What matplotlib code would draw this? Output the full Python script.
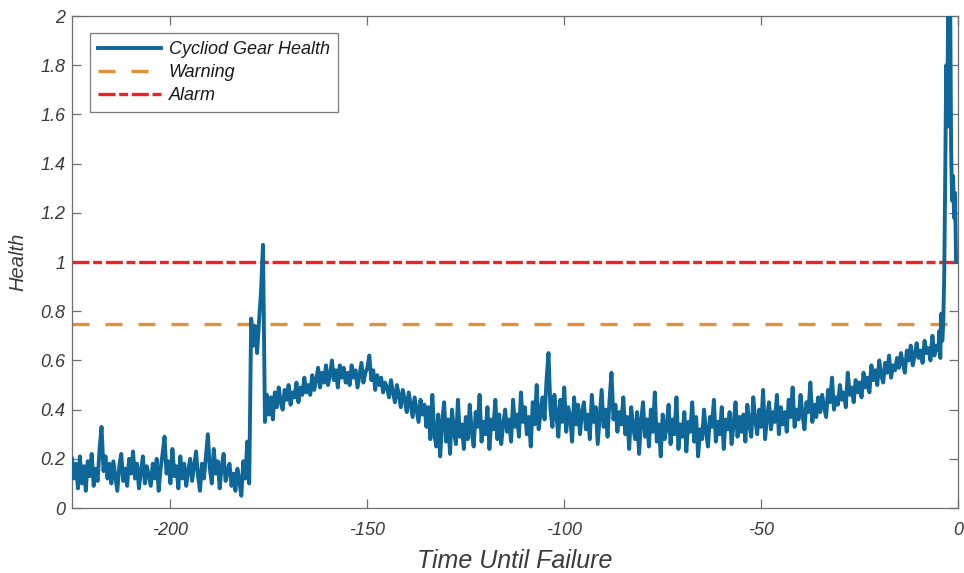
import numpy as np
import matplotlib.pyplot as plt

# health indicator sampled every 0.5 time units from -225 to -5.5
health_main = [
    0.20, 0.12, 0.18, 0.08, 0.21, 0.10, 0.17, 0.07, 0.19, 0.13, 0.22, 0.09, 0.16, 0.11, 0.24, 0.33, 0.15, 0.21, 0.12, 0.18,
    0.10, 0.19, 0.13, 0.07, 0.17, 0.22, 0.11, 0.16, 0.09, 0.20, 0.14, 0.23, 0.12, 0.18, 0.08, 0.15, 0.21, 0.10, 0.17, 0.13,
    0.09, 0.18, 0.12, 0.20, 0.07, 0.16, 0.22, 0.29, 0.14, 0.19, 0.10, 0.24, 0.13, 0.17, 0.08, 0.21, 0.12, 0.18, 0.09, 0.15,
    0.20, 0.11, 0.17, 0.23, 0.13, 0.07, 0.18, 0.12, 0.21, 0.30, 0.16, 0.10, 0.24, 0.14, 0.19, 0.08, 0.17, 0.22, 0.11, 0.15,
    0.18, 0.09, 0.14, 0.07, 0.16, 0.11, 0.05, 0.19, 0.12, 0.27, 0.10, 0.77, 0.66, 0.74, 0.63, 0.76, 0.88, 1.07, 0.35, 0.46,
    0.38, 0.45, 0.36, 0.47, 0.41, 0.49, 0.43, 0.40, 0.48, 0.44, 0.50, 0.42, 0.47, 0.45, 0.51, 0.43, 0.49, 0.46, 0.53, 0.47,
    0.50, 0.46, 0.54, 0.48, 0.52, 0.57, 0.49, 0.55, 0.51, 0.58, 0.50, 0.54, 0.60, 0.52, 0.56, 0.49, 0.58, 0.53, 0.57, 0.51,
    0.55, 0.50, 0.58, 0.53, 0.56, 0.49, 0.54, 0.59, 0.51, 0.55, 0.57, 0.62, 0.52, 0.56, 0.48, 0.54, 0.50, 0.53, 0.47, 0.51,
    0.49, 0.45, 0.52, 0.47, 0.43, 0.50, 0.46, 0.41, 0.48, 0.44, 0.39, 0.47, 0.42, 0.37, 0.45, 0.40, 0.35, 0.44, 0.38, 0.42,
    0.33, 0.41, 0.28, 0.46, 0.30, 0.25, 0.38, 0.21, 0.35, 0.43, 0.27, 0.36, 0.22, 0.40, 0.31, 0.26, 0.44, 0.29, 0.34, 0.24,
    0.37, 0.28, 0.42, 0.31, 0.25, 0.39, 0.33, 0.46, 0.27, 0.35, 0.30, 0.41, 0.24, 0.36, 0.32, 0.44, 0.28, 0.38, 0.26, 0.34,
    0.40, 0.31, 0.36, 0.27, 0.44, 0.33, 0.38, 0.29, 0.47, 0.35, 0.41, 0.30, 0.37, 0.25, 0.43, 0.34, 0.50, 0.32, 0.39, 0.45,
    0.36, 0.52, 0.63, 0.40, 0.33, 0.46, 0.38, 0.29, 0.44, 0.35, 0.49, 0.31, 0.41, 0.37, 0.27, 0.45, 0.34, 0.42, 0.30, 0.39,
    0.43, 0.32, 0.38, 0.28, 0.46, 0.35, 0.41, 0.26, 0.37, 0.48, 0.33, 0.40, 0.29, 0.44, 0.55, 0.36, 0.42, 0.31, 0.39, 0.34,
    0.45, 0.30, 0.37, 0.24, 0.41, 0.33, 0.28, 0.39, 0.22, 0.35, 0.43, 0.29, 0.36, 0.25, 0.40, 0.31, 0.47, 0.27, 0.34, 0.21,
    0.38, 0.28, 0.33, 0.42, 0.26, 0.36, 0.30, 0.45, 0.24, 0.34, 0.29, 0.39, 0.23, 0.35, 0.31, 0.43, 0.27, 0.37, 0.21, 0.32,
    0.28, 0.40, 0.31, 0.25, 0.37, 0.33, 0.44, 0.27, 0.35, 0.30, 0.41, 0.24, 0.36, 0.32, 0.39, 0.26, 0.34, 0.43, 0.29, 0.37,
    0.31, 0.38, 0.27, 0.42, 0.34, 0.29, 0.45, 0.36, 0.30, 0.40, 0.33, 0.48, 0.28, 0.37, 0.43, 0.32, 0.39, 0.35, 0.46, 0.30,
    0.41, 0.34, 0.39, 0.31, 0.44, 0.37, 0.49, 0.33, 0.40, 0.36, 0.46, 0.38, 0.32, 0.43, 0.39, 0.51, 0.35, 0.42, 0.37, 0.45,
    0.39, 0.46, 0.41, 0.37, 0.48, 0.43, 0.53, 0.40, 0.45, 0.42, 0.50, 0.44, 0.47, 0.41, 0.55, 0.46, 0.49, 0.43, 0.52, 0.47,
    0.51, 0.45, 0.55, 0.49, 0.53, 0.47, 0.58, 0.52, 0.56, 0.50, 0.60, 0.54, 0.51, 0.59, 0.55, 0.62, 0.53, 0.58, 0.56, 0.61,
    0.57, 0.63, 0.59, 0.55, 0.64, 0.60, 0.66, 0.58, 0.62, 0.67, 0.61, 0.64, 0.59, 0.68, 0.63, 0.65, 0.60, 0.70, 0.62, 0.66,
]

# last few time units, sampled every 0.25 (the failure spike)
health_tail = [0.64, 0.72, 0.61, 0.79, 0.68, 0.75, 0.95, 1.35, 1.80, 1.55,
               2.05, 1.70, 2.10, 1.45, 1.25, 1.35, 1.18, 1.28, 1.00]

warning_level = 0.75
alarm_level = 1.0

t_main = -225 + 0.5 * np.arange(len(health_main))
t_tail = -5 + 0.25 * np.arange(len(health_tail))
t = np.concatenate([t_main, t_tail])
health = np.array(health_main + health_tail)

plt.rcParams['font.family'] = ['Liberation Sans', 'DejaVu Sans']
plt.rcParams['font.style'] = 'italic'
plt.rcParams['axes.unicode_minus'] = False

fig = plt.figure(figsize=(9.64, 5.73), dpi=100)
ax = fig.add_axes([0.0747, 0.1134, 0.9191, 0.8586])

ax.plot(t, health, color='#0f6698', lw=2.8, label='Cycliod Gear Health', zorder=3)
ax.plot([-225, 0], [warning_level, warning_level], color='#e0913a', lw=2.4,
        dashes=(5.1, 4.8), label='Warning', zorder=2)
ax.plot([-225, 0], [alarm_level, alarm_level], color='#ec2226', lw=2.4,
        dashes=(5.1, 1.1, 2.7, 1.1), label='Alarm', zorder=2)

ax.set_xlim(-225, 0)
ax.set_ylim(0, 2)
ax.set_xticks([-200, -150, -100, -50, 0])
ax.set_yticks(np.arange(0, 2.01, 0.2))
ax.set_yticklabels(['0', '0.2', '0.4', '0.6', '0.8', '1', '1.2', '1.4', '1.6', '1.8', '2'])

grey = '#6e6e6e'
for s in ax.spines.values():
    s.set_color(grey)
    s.set_linewidth(0.9)
ax.tick_params(direction='in', top=True, right=True, length=6.5, width=0.9,
               color=grey, labelcolor='#3a3a3a', labelsize=13)
ax.tick_params(axis='y', pad=5)
ax.tick_params(axis='x', pad=10)

ax.set_xlabel('Time Until Failure', fontsize=18, color='#3a3a3a', labelpad=7)
ax.set_ylabel('Health', fontsize=14.5, color='#3a3a3a', labelpad=9)

leg = ax.legend(loc='upper left', bbox_to_anchor=(0.0203, 0.9654), borderaxespad=0,
                fontsize=13, frameon=True, fancybox=False, handlelength=3.5,
                borderpad=0.45, labelspacing=0.33, handletextpad=0.4)
leg.get_frame().set_edgecolor('#5a5a5a')
leg.get_frame().set_linewidth(0.9)
for txt in leg.get_texts():
    txt.set_color('#1a1a1a')

fig.savefig('out.png', dpi=100)
